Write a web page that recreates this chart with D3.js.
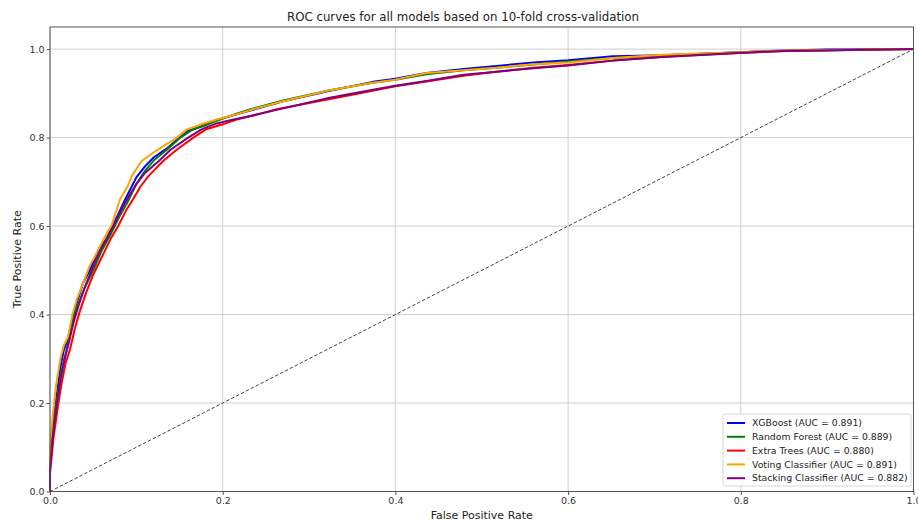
<!DOCTYPE html>
<html lang="en">
<head>
<meta charset="utf-8">
<title>ROC curves</title>
<script src="https://d3js.org/d3.v7.min.js"></script>
<style>
  body { margin: 0; background: #fff; }
  svg { font-family: "DejaVu Sans", sans-serif; }
</style>
</head>
<body>
<svg id="chart" width="918" height="523"></svg>
<script>
// model names + AUC (legend)
const modelNames = ["XGBoost", "Random Forest", "Extra Trees", "Voting Classifier", "Stacking Classifier"];
const modelAuc = ["0.891", "0.889", "0.880", "0.891", "0.882"];
const modelColors = ["blue", "green", "red", "orange", "purple"];

const xTicks = [0, 0.2, 0.4, 0.6, 0.8, 1.0];
const yTicks = [0, 0.2, 0.4, 0.6, 0.8, 1.0];

// [fpr, tpr] points
const rocXgb = [[0,0],[0,0.08],[0.003,0.15],[0.008,0.22],[0.012,0.28],[0.016,0.32],[0.02,0.34],[0.025,0.38],[0.03,0.42],[0.038,0.47],[0.046,0.5],[0.057,0.55],[0.065,0.57],[0.075,0.61],[0.087,0.66],[0.1,0.71],[0.11,0.735],[0.12,0.755],[0.135,0.775],[0.15,0.8],[0.16,0.815],[0.175,0.825],[0.193,0.84],[0.215,0.852],[0.235,0.863],[0.27,0.882],[0.3,0.895],[0.324,0.906],[0.374,0.926],[0.4,0.933],[0.436,0.946],[0.479,0.955],[0.517,0.962],[0.56,0.97],[0.6,0.975],[0.652,0.984],[0.71,0.986],[0.8,0.993],[0.85,0.997],[0.9,0.999],[1,1]];
const rocRf = [[0,0],[0,0.06],[0.004,0.15],[0.009,0.22],[0.013,0.27],[0.018,0.31],[0.024,0.36],[0.03,0.41],[0.04,0.46],[0.05,0.5],[0.06,0.545],[0.07,0.58],[0.08,0.62],[0.09,0.655],[0.1,0.695],[0.11,0.725],[0.12,0.748],[0.135,0.772],[0.151,0.8],[0.165,0.818],[0.18,0.828],[0.193,0.838],[0.21,0.85],[0.232,0.864],[0.27,0.884],[0.324,0.907],[0.374,0.924],[0.4,0.931],[0.436,0.943],[0.479,0.952],[0.517,0.958],[0.56,0.965],[0.6,0.972],[0.652,0.98],[0.71,0.986],[0.8,0.993],[0.85,0.996],[1,1]];
const rocEt = [[0,0],[0,0.04],[0.004,0.12],[0.009,0.19],[0.013,0.24],[0.018,0.29],[0.023,0.32],[0.029,0.37],[0.035,0.41],[0.042,0.45],[0.05,0.49],[0.06,0.53],[0.07,0.57],[0.079,0.6],[0.088,0.635],[0.096,0.66],[0.105,0.69],[0.114,0.713],[0.131,0.747],[0.147,0.773],[0.166,0.8],[0.181,0.819],[0.2,0.83],[0.216,0.841],[0.24,0.852],[0.2625,0.864],[0.3,0.878],[0.35,0.897],[0.4,0.916],[0.436,0.927],[0.479,0.94],[0.517,0.949],[0.56,0.958],[0.6,0.964],[0.652,0.974],[0.71,0.983],[0.8,0.991],[0.85,0.996],[1,1]];
const rocVote = [[0,0],[0,0.1],[0.003,0.17],[0.007,0.24],[0.012,0.3],[0.016,0.33],[0.021,0.35],[0.026,0.4],[0.031,0.434],[0.038,0.47],[0.046,0.51],[0.053,0.535],[0.06,0.562],[0.066,0.585],[0.071,0.6],[0.081,0.66],[0.09,0.69],[0.0946,0.713],[0.106,0.747],[0.125,0.773],[0.147,0.8],[0.158,0.818],[0.175,0.83],[0.193,0.841],[0.215,0.852],[0.235,0.864],[0.27,0.882],[0.324,0.907],[0.374,0.924],[0.4,0.931],[0.436,0.946],[0.479,0.952],[0.517,0.958],[0.56,0.966],[0.6,0.97],[0.652,0.98],[0.71,0.987],[0.8,0.993],[0.85,0.997],[1,1]];
const rocStack = [[0,0],[0,0.05],[0.003,0.12],[0.008,0.2],[0.012,0.25],[0.017,0.3],[0.021,0.33],[0.027,0.38],[0.033,0.42],[0.04,0.46],[0.048,0.5],[0.058,0.545],[0.068,0.58],[0.076,0.61],[0.086,0.65],[0.1,0.695],[0.11,0.72],[0.126,0.747],[0.14,0.773],[0.16,0.8],[0.176,0.819],[0.193,0.832],[0.21,0.84],[0.232,0.849],[0.27,0.866],[0.324,0.89],[0.374,0.908],[0.4,0.917],[0.436,0.928],[0.479,0.942],[0.517,0.949],[0.56,0.957],[0.6,0.963],[0.652,0.974],[0.71,0.982],[0.8,0.992],[0.85,0.996],[1,1]];
const rocAll = [rocXgb, rocRf, rocEt, rocVote, rocStack];

const svg = d3.select("#chart");
const margin = { top: 27, right: 4.5, bottom: 31.5, left: 50 };
const width = 918, height = 523;

const x = d3.scaleLinear().domain([0, 1]).range([margin.left, width - margin.right]);
const y = d3.scaleLinear().domain([0, 1.05]).range([height - margin.bottom, margin.top]);

// grid
svg.append("g")
  .selectAll("line.gx")
  .data(xTicks)
  .join("line")
  .attr("x1", d => x(d)).attr("x2", d => x(d))
  .attr("y1", y(0)).attr("y2", y(1.05))
  .attr("stroke", "#cfcfcf").attr("stroke-width", 1);
svg.append("g")
  .selectAll("line.gy")
  .data(yTicks)
  .join("line")
  .attr("y1", d => y(d)).attr("y2", d => y(d))
  .attr("x1", x(0)).attr("x2", x(1))
  .attr("stroke", "#cfcfcf").attr("stroke-width", 1);

// chance line
svg.append("line")
  .attr("x1", x(0)).attr("y1", y(0))
  .attr("x2", x(1)).attr("y2", y(1))
  .attr("stroke", "#444").attr("stroke-width", 1)
  .attr("stroke-dasharray", "3.5,2");

const line = d3.line().x(d => x(d[0])).y(d => y(d[1]));

svg.append("g")
  .selectAll("path")
  .data(rocAll)
  .join("path")
  .attr("d", line)
  .attr("fill", "none")
  .attr("stroke", (d, i) => modelColors[i])
  .attr("stroke-width", 2)
  .attr("stroke-linejoin", "round");

// frame
svg.append("rect")
  .attr("x", x(0)).attr("y", y(1.05))
  .attr("width", x(1) - x(0)).attr("height", y(0) - y(1.05))
  .attr("fill", "none").attr("stroke", "#555").attr("stroke-width", 1);

// axes
svg.append("g")
  .attr("transform", `translate(0,${y(0)})`)
  .call(d3.axisBottom(x).tickValues(xTicks).tickFormat(d3.format(".1f")).tickSize(3.5).tickPadding(2))
  .call(g => g.select(".domain").remove())
  .call(g => g.selectAll("line").attr("stroke", "#555"))
  .call(g => g.selectAll("text").attr("font-size", 9.5).attr("fill", "#333").attr("font-family", "DejaVu Sans"));

svg.append("g")
  .attr("transform", `translate(${x(0)},0)`)
  .call(d3.axisLeft(y).tickValues(yTicks).tickFormat(d3.format(".1f")).tickSize(3.5).tickPadding(2))
  .call(g => g.select(".domain").remove())
  .call(g => g.selectAll("line").attr("stroke", "#555"))
  .call(g => g.selectAll("text").attr("font-size", 9.5).attr("fill", "#333").attr("font-family", "DejaVu Sans"));

// titles
svg.append("text")
  .attr("x", 463).attr("y", 21)
  .attr("text-anchor", "middle")
  .attr("font-size", 11.8).attr("fill", "#222")
  .text("ROC curves for all models based on 10-fold cross-validation");

svg.append("text")
  .attr("x", (x(0) + x(1)) / 2).attr("y", 519)
  .attr("text-anchor", "middle")
  .attr("font-size", 11).attr("fill", "#222")
  .text("False Positive Rate");

svg.append("text")
  .attr("transform", `translate(21,${(y(0) + y(1.05)) / 2}) rotate(-90)`)
  .attr("text-anchor", "middle")
  .attr("font-size", 11).attr("fill", "#222")
  .text("True Positive Rate");

// legend
const lg = svg.append("g").attr("transform", "translate(723,414)");
lg.append("rect")
  .attr("width", 188).attr("height", 72).attr("rx", 2)
  .attr("fill", "#fff").attr("fill-opacity", 0.85)
  .attr("stroke", "#d8d8d8");
const items = lg.selectAll("g.item")
  .data(modelNames)
  .join("g")
  .attr("transform", (d, i) => `translate(0,${9 + i * 13.8})`);
items.append("line")
  .attr("x1", 4).attr("x2", 22)
  .attr("stroke", (d, i) => modelColors[i]).attr("stroke-width", 2);
items.append("text")
  .attr("x", 29).attr("dy", "0.35em")
  .attr("font-size", 9.3).attr("fill", "#222")
  .text((d, i) => `${d} (AUC = ${modelAuc[i]})`);
</script>
</body>
</html>
